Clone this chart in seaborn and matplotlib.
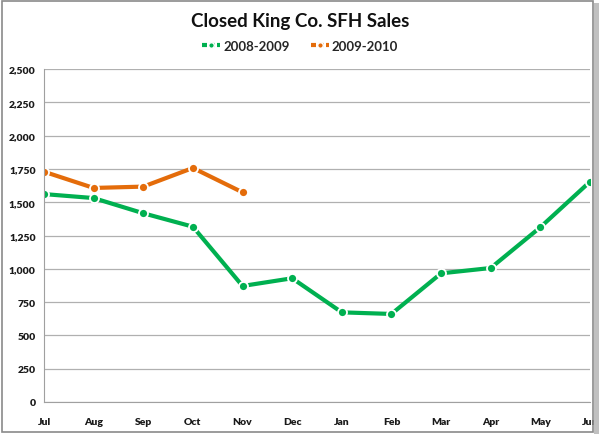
import numpy as np
import pandas as pd
import seaborn as sns
from matplotlib import pyplot as plt
from matplotlib.patches import Rectangle

months = ["Jul", "Aug", "Sep", "Oct", "Nov", "Dec", "Jan", "Feb", "Mar", "Apr", "May", "Jun"]
sales_0809 = [1561, 1531, 1417, 1316, 871, 929, 673, 661, 966, 1006, 1312, 1654]
sales_0910 = [1729, 1607, 1617, 1757, 1574]
yticks = [0, 250, 500, 750, 1000, 1250, 1500, 1750, 2000, 2250, 2500]

df = pd.concat([
    pd.DataFrame({"month": months, "idx": range(len(months)), "sales": sales_0809, "season": "2008-2009"}),
    pd.DataFrame({"month": months[:len(sales_0910)], "idx": range(len(sales_0910)), "sales": sales_0910, "season": "2009-2010"}),
])

sns.set_style("white")
plt.rcParams['font.family'] = ['Lato', 'DejaVu Sans']

fig = plt.figure(figsize=(6, 4.35), dpi=100)
ax = fig.add_axes([44 / 600, 32 / 435, 546 / 600, 333 / 435])

palette = {"2008-2009": "#00B050", "2009-2010": "#E46C0A"}
sns.lineplot(data=df, x="idx", y="sales", hue="season", palette=palette, ax=ax,
             marker="o", markersize=6.5, markeredgecolor="white", markeredgewidth=1.3,
             linewidth=3, legend=False)

ax.set_xlim(0, len(months) - 1)
ax.set_ylim(0, 2500)
ax.set_xticks(range(len(months)))
ax.set_xticklabels(months, fontsize=7.5, fontweight="heavy", color="#1a1a1a")
ax.set_yticks(yticks)
ax.set_yticklabels([f"{v:,}" for v in yticks], fontsize=7.5, fontweight="heavy", color="#1a1a1a")
ax.set_xlabel("")
ax.set_ylabel("")
ax.grid(axis="y", color="#b0b0b0", linewidth=0.9)
ax.set_axisbelow(True)
for s in ["top", "right"]:
    ax.spines[s].set_visible(False)
ax.spines["left"].set_color("#a0a0a0")
ax.spines["bottom"].set_color("#a0a0a0")
ax.tick_params(axis="x", direction="out", length=4, color="#a0a0a0", pad=7)
ax.tick_params(axis="y", length=0, pad=6)

fig.text(0.5, 0.95, "Closed King Co. SFH Sales", ha="center", va="center", fontsize=13.5, fontweight="bold",
         color="#111111")

# legend
handles = [plt.Line2D([], [], color=c, linewidth=3, linestyle=(0, (1.2, 0.6)), marker="o",
                      markersize=4, markeredgecolor="white", markevery=[1]) for c in palette.values()]
fig.legend(handles, list(palette.keys()), loc="center", bbox_to_anchor=(0.5, 0.892), ncol=2,
           frameon=False, handlelength=1.4, handletextpad=0.2, columnspacing=1.6,
           prop={"weight": "bold", "size": 9.5})

# outer frame
fig.patches.append(Rectangle((0.003, 0.005), 0.985, 0.99, transform=fig.transFigure,
                             fill=False, edgecolor="#8a8a8a", linewidth=1.2))
fig.patches.append(Rectangle((0.99, 0.0), 0.008, 0.99, transform=fig.transFigure,
                             color="#c0c0c0", linewidth=0))

fig.savefig("out.png", dpi=100)
